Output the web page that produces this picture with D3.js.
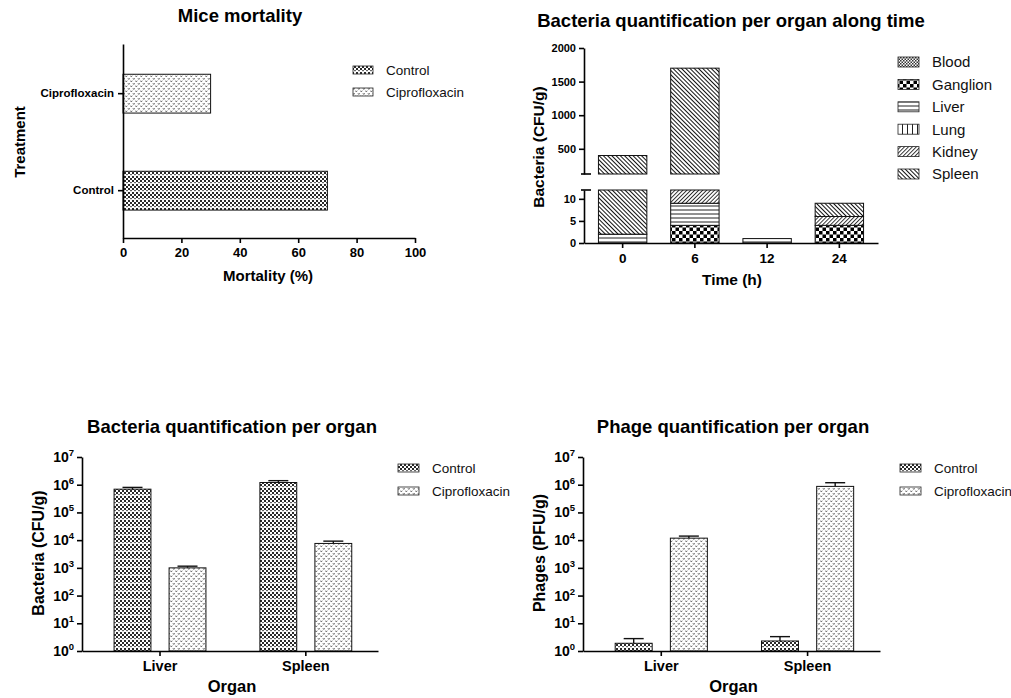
<!DOCTYPE html>
<html>
<head>
<meta charset="utf-8">
<script src="https://cdn.jsdelivr.net/npm/d3@7"></script>
<style>
  body { margin: 0; background: #fff; }
  svg { display: block; }
</style>
</head>
<body>
<div id="figure"></div>
<script>
// values
const mortalityGroups = ["Ciprofloxacin", "Control"];
const mortalityValues = [30, 70];
const mortalityTicks = [0, 20, 40, 60, 80, 100];

const timeLabels = ["0", "6", "12", "24"];
const organs = ["Blood", "Ganglion", "Liver", "Lung", "Kidney", "Spleen"];
const bloodCfu = [0, 0, 0, 0];
const ganglionCfu = [0, 4, 0, 4];
const liverCfu = [2, 5, 1, 0];
const lungCfu = [0, 0, 0, 0];
const kidneyCfu = [0, 10, 0, 2];
const spleenCfu = [398, 1681, 0, 3];
const lowerTicks = [0, 5, 10];
const upperTicks = [500, 1000, 1500, 2000];

const treatments = ["Control", "Ciprofloxacin"];
const organGroups = ["Liver", "Spleen"];
const bacteriaControl = [6.9e5, 1.2e6];
const bacteriaControlErr = [1.1e5, 2.0e5];
const bacteriaCipro = [1000, 7600];
const bacteriaCiproErr = [150, 1600];
const phageControl = [1.9, 2.3];
const phageControlErr = [0.9, 1.0];
const phageCipro = [1.18e4, 8.7e5];
const phageCiproErr = [2.2e3, 3.1e5];
const logTicks = [1, 10, 100, 1e3, 1e4, 1e5, 1e6, 1e7];

const FONT = "'Liberation Sans', Arial, sans-serif";

const svg = d3.select("#figure").append("svg")
    .attr("width", 1011).attr("height", 698)
    .style("font-family", FONT);
const defs = svg.append("defs");

// fill patterns (GraphPad style)
function makePattern(id, w, h, rot) {
  const p = defs.append("pattern").attr("id", id)
      .attr("patternUnits", "userSpaceOnUse")
      .attr("width", w).attr("height", h);
  if (rot) p.attr("patternTransform", "rotate(" + rot + ")");
  p.append("rect").attr("width", w).attr("height", h).attr("fill", "#fff");
  return p;
}
let p = makePattern("pControl", 4, 8);
[[0, 0], [2, 2], [0, 4]].forEach(([a, b]) =>
  p.append("rect").attr("x", a).attr("y", b).attr("width", 2).attr("height", 2).attr("fill", "#2a2a2a"));
p.append("rect").attr("x", 2).attr("y", 6).attr("width", 2).attr("height", 1.2).attr("fill", "#666");

p = makePattern("pCipro", 5, 5);
p.append("path").attr("d", "M0.4,0.6 L1.3,2 L2.2,0.6").attr("fill", "none").attr("stroke", "#555").attr("stroke-width", 0.8);
p.append("path").attr("d", "M2.9,3.1 L3.8,4.5 L4.7,3.1").attr("fill", "none").attr("stroke", "#555").attr("stroke-width", 0.8);

p = makePattern("pBlood", 3, 3);
p.append("rect").attr("width", 1.5).attr("height", 1.5).attr("fill", "#333");
p.append("rect").attr("x", 1.5).attr("y", 1.5).attr("width", 1.5).attr("height", 1.5).attr("fill", "#333");

p = makePattern("pGanglion", 7, 7);
p.append("rect").attr("width", 3.5).attr("height", 3.5).attr("fill", "#000");
p.append("rect").attr("x", 3.5).attr("y", 3.5).attr("width", 3.5).attr("height", 3.5).attr("fill", "#000");

p = makePattern("pLiver", 4, 4);
p.append("line").attr("x1", 0).attr("x2", 4).attr("y1", 2).attr("y2", 2).attr("stroke", "#222").attr("stroke-width", 1);

p = makePattern("pLung", 5, 5);
p.append("line").attr("x1", 2.5).attr("x2", 2.5).attr("y1", 0).attr("y2", 5).attr("stroke", "#222").attr("stroke-width", 1);

p = makePattern("pKidney", 2.8, 2.8, 45);
p.append("line").attr("x1", 1.4).attr("x2", 1.4).attr("y1", 0).attr("y2", 2.8).attr("stroke", "#222").attr("stroke-width", 0.9);

p = makePattern("pSpleen", 3, 3, -45);
p.append("line").attr("x1", 1.5).attr("x2", 1.5).attr("y1", 0).attr("y2", 3).attr("stroke", "#111").attr("stroke-width", 1);

const treatFill = { Control: "url(#pControl)", Ciprofloxacin: "url(#pCipro)" };
const organFill = { Blood: "url(#pBlood)", Ganglion: "url(#pGanglion)", Liver: "url(#pLiver)",
                    Lung: "url(#pLung)", Kidney: "url(#pKidney)", Spleen: "url(#pSpleen)" };

function styleAxis(g, fs) {
  g.attr("font-family", FONT).attr("font-size", fs);
  g.selectAll("path.domain").attr("stroke", "#000").attr("stroke-width", 1.6);
  g.selectAll(".tick line").attr("stroke", "#000").attr("stroke-width", 1.6);
  g.selectAll(".tick text").attr("fill", "#000").attr("font-weight", "bold");
}
function title(x, y, txt) {
  svg.append("text").attr("x", x).attr("y", y).attr("text-anchor", "middle")
     .attr("font-size", 18.5).attr("font-weight", "bold").text(txt);
}
function axisTitle(x, y, txt, fs, rotate) {
  const t = svg.append("text").attr("text-anchor", "middle")
     .attr("font-size", fs).attr("font-weight", "bold").text(txt);
  if (rotate) t.attr("transform", "translate(" + x + "," + y + ") rotate(-90)");
  else t.attr("x", x).attr("y", y);
}
function legend(x, y0, dy, keys, fills, sw, sh, fs) {
  keys.forEach((k, i) => {
    const cy = y0 + i * dy;
    svg.append("rect").attr("x", x).attr("y", cy - sh / 2).attr("width", sw).attr("height", sh)
       .attr("fill", fills[k]).attr("stroke", "#222").attr("stroke-width", 0.8);
    svg.append("text").attr("x", x + sw + 13).attr("y", cy + fs * 0.36)
       .attr("font-size", fs).attr("fill", "#111").text(k);
  });
}

// ---------- Mice mortality ----------
{
  const x = d3.scaleLinear().domain([0, 100]).range([123, 415]);
  const y = d3.scaleBand().domain(mortalityGroups).range([44, 238])
      .paddingInner(0.6).paddingOuter(0.3).align(0.52);
  svg.selectAll(".mort").data(mortalityGroups).enter().append("rect")
      .attr("x", x(0)).attr("y", d => y(d))
      .attr("width", (d, i) => x(mortalityValues[i]) - x(0)).attr("height", y.bandwidth())
      .attr("fill", d => treatFill[d]).attr("stroke", "#111").attr("stroke-width", 1);
  svg.append("g").attr("transform", "translate(0,238)")
      .call(d3.axisBottom(x).tickValues(mortalityTicks).tickSize(5).tickSizeOuter(0).tickPadding(5))
      .call(g => styleAxis(g, 13));
  svg.append("g").attr("transform", "translate(123,0)")
      .call(d3.axisLeft(y).tickSize(5).tickSizeOuter(0).tickPadding(4))
      .call(g => styleAxis(g, 11.5));
  title(240, 22, "Mice mortality");
  axisTitle(268, 281, "Mortality (%)", 15);
  axisTitle(25, 142, "Treatment", 15, true);
  legend(353, 70, 22, treatments, treatFill, 20, 8, 13.5);
}

// ---------- Bacteria along time (broken axis, stacked) ----------
{
  const x = d3.scaleBand().domain(timeLabels).range([584, 878]).paddingInner(0.33).paddingOuter(0.2);
  const yLow = d3.scaleLinear().domain([0, 12]).range([243, 190]);
  const yHigh = d3.scaleLinear().domain([125, 2000]).range([174, 48]);
  const cols = [bloodCfu, ganglionCfu, liverCfu, lungCfu, kidneyCfu, spleenCfu];
  const rows = timeLabels.map((t, j) => {
    const r = { time: t };
    organs.forEach((o, i) => { r[o] = cols[i][j]; });
    return r;
  });
  const series = d3.stack().keys(organs)(rows);
  const pieces = [];
  series.forEach(s => s.forEach(d => {
    [[yLow, 0, 12], [yHigh, 125, 2000]].forEach(([sc, lo, hi]) => {
      const a = Math.max(d[0], lo), b = Math.min(d[1], hi);
      if (b > a) pieces.push({ key: s.key, time: d.data.time, sc: sc, a: a, b: b });
    });
  }));
  svg.selectAll(".stk").data(pieces).enter().append("rect")
      .attr("x", d => x(d.time)).attr("width", x.bandwidth())
      .attr("y", d => d.sc(d.b)).attr("height", d => d.sc(d.a) - d.sc(d.b))
      .attr("fill", d => organFill[d.key]).attr("stroke", "#111").attr("stroke-width", 1);

  svg.append("g").attr("transform", "translate(584,0)")
      .call(d3.axisLeft(yLow).tickValues(lowerTicks).tickFormat(d3.format("d")).tickSize(5).tickSizeOuter(0).tickPadding(3))
      .call(g => styleAxis(g, 11));
  svg.append("g").attr("transform", "translate(584,0)")
      .call(d3.axisLeft(yHigh).tickValues(upperTicks).tickFormat(d3.format("d")).tickSize(5).tickSizeOuter(0).tickPadding(3))
      .call(g => styleAxis(g, 11));
  // break caps
  [yLow(12), yHigh(125)].forEach(v => {
    svg.append("line").attr("x1", 581).attr("x2", 591).attr("y1", v).attr("y2", v)
       .attr("stroke", "#000").attr("stroke-width", 1.6);
  });
  svg.append("g").attr("transform", "translate(0,243)")
      .call(d3.axisBottom(x).tickSize(5).tickSizeOuter(0).tickPadding(5))
      .call(g => styleAxis(g, 13.5));
  title(731, 27, "Bacteria quantification per organ along time");
  axisTitle(732, 285, "Time (h)", 15.5);
  axisTitle(544, 147, "Bacteria (CFU/g)", 15.5, true);
  legend(898, 62, 22.4, organs, organFill, 21, 10, 15);
}

// ---------- log-scale grouped bars ----------
function logPanel(x0, x1, ctrl, ctrlErr, cipro, ciproErr, ttl, tx, ylab, lx, legX) {
  const y = d3.scaleLog().domain([1, 1e7]).range([651, 457]);
  const x = d3.scaleBand().domain(organGroups).range([x0, x1])
      .paddingInner(0.37).paddingOuter(0.2).align(0.55);
  const xs = d3.scaleBand().domain(treatments).range([0, x.bandwidth()]).paddingInner(0.33);
  const data = [];
  organGroups.forEach((o, i) => {
    data.push({ organ: o, trt: "Control", v: ctrl[i], e: ctrlErr[i] });
    data.push({ organ: o, trt: "Ciprofloxacin", v: cipro[i], e: ciproErr[i] });
  });
  const g = svg.append("g");
  g.selectAll(".eb").data(data).enter().append("line")
      .attr("x1", d => x(d.organ) + xs(d.trt) + xs.bandwidth() / 2)
      .attr("x2", d => x(d.organ) + xs(d.trt) + xs.bandwidth() / 2)
      .attr("y1", d => y(d.v)).attr("y2", d => y(d.v + d.e))
      .attr("stroke", "#111").attr("stroke-width", 1.4);
  g.selectAll(".cap").data(data).enter().append("line")
      .attr("x1", d => x(d.organ) + xs(d.trt) + xs.bandwidth() / 2 - 10)
      .attr("x2", d => x(d.organ) + xs(d.trt) + xs.bandwidth() / 2 + 10)
      .attr("y1", d => y(d.v + d.e)).attr("y2", d => y(d.v + d.e))
      .attr("stroke", "#111").attr("stroke-width", 1.4);
  g.selectAll(".bar").data(data).enter().append("rect")
      .attr("x", d => x(d.organ) + xs(d.trt)).attr("width", xs.bandwidth())
      .attr("y", d => y(d.v)).attr("height", d => y(1) - y(d.v))
      .attr("fill", d => treatFill[d.trt]).attr("stroke", "#111").attr("stroke-width", 1);

  svg.append("g").attr("transform", "translate(" + x0 + ",0)")
      .call(d3.axisLeft(y).tickValues(logTicks).tickSize(5).tickSizeOuter(0).tickPadding(3).tickFormat(() => ""))
      .call(ax => styleAxis(ax, 14))
      .call(ax => ax.selectAll(".tick text").each(function (d) {
        const t = d3.select(this);
        t.append("tspan").text("10");
        t.append("tspan").attr("dy", -6).attr("font-size", 9.5).text(Math.round(Math.log10(d)));
      }));
  svg.append("g").attr("transform", "translate(0,651)")
      .call(d3.axisBottom(x).tickSize(5).tickSizeOuter(0).tickPadding(5))
      .call(ax => styleAxis(ax, 14.5));
  title(tx, 433, ttl);
  axisTitle((x0 + x1) / 2 + 2, 692, "Organ", 16.5);
  axisTitle(lx, 553, ylab, 16, true);
  legend(legX, 468, 23, treatments, treatFill, 21, 8, 13.5);
}
logPanel(82, 378, bacteriaControl, bacteriaControlErr, bacteriaCipro, bacteriaCiproErr,
         "Bacteria quantification per organ", 232, "Bacteria (CFU/g)", 44, 398);
logPanel(583, 880, phageControl, phageControlErr, phageCipro, phageCiproErr,
         "Phage quantification per organ", 733, "Phages (PFU/g)", 545, 900);
</script>
</body>
</html>
